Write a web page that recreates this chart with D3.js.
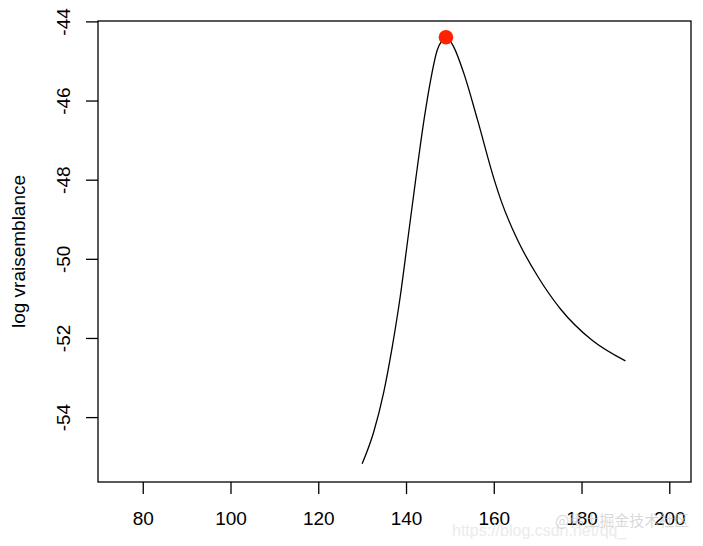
<!DOCTYPE html>
<html>
<head>
<meta charset="utf-8">
<script src="https://cdn.jsdelivr.net/npm/d3@7"></script>
<style>
    body { margin: 0; background: #fff; }
    text { font-family: "Liberation Sans", Arial, sans-serif; }
</style>
</head>
<body>
<div id="chart-area"></div>
<script>

// values (parameter, log likelihood)
let paramValues = [130, 132.6, 134.9, 136.9, 138.7, 140.3, 142.2, 144.1, 145.6, 147.1, 148.1, 149.1,
    150.1, 150.9, 153.2, 156.3, 160.1, 161.6, 165.4, 170, 175.3, 182.2, 190];
let logLikValues = [-55.18, -54.39, -53.38, -52.2, -50.94, -49.6, -48.0, -46.49, -45.49, -44.73, -44.5, -44.4,
    -44.5, -44.65, -45.32, -46.49, -48.0, -48.51, -49.52, -50.44, -51.28, -52.04, -52.58];

// maximum
let maxPoint = [149.1, -44.4];

let xTicks = [80, 100, 120, 140, 160, 180, 200];
let yTicks = [-54, -52, -50, -48, -46, -44];
let yLabel = "log vraisemblance";

class LikVis {
    constructor(parentElement) {
        this.parentElement = parentElement;
        this.initVis();
    }

    initVis() {
        let vis = this;

        vis.margin = { top: 21, right: 12, bottom: 64, left: 98 };
        vis.width = 703 - vis.margin.left - vis.margin.right;
        vis.height = 546 - vis.margin.top - vis.margin.bottom;

        vis.svg = d3.select("#" + vis.parentElement).append("svg")
            .attr("width", 703)
            .attr("height", 546)
            .append("g")
            .attr("transform", `translate(${vis.margin.left},${vis.margin.top})`);

        vis.x = d3.scaleLinear().domain([69.8, 204.95]).range([0, vis.width]);
        vis.y = d3.scaleLinear().domain([-55.64, -43.99]).range([vis.height, 0]);

        // box
        vis.svg.append("rect")
            .attr("width", vis.width)
            .attr("height", vis.height)
            .attr("fill", "none")
            .attr("stroke", "#000")
            .attr("stroke-width", 1.3);

        // x axis
        let xAxis = vis.svg.append("g")
            .attr("transform", `translate(0,${vis.height})`)
            .call(d3.axisBottom(vis.x).tickValues(xTicks).tickSize(12).tickPadding(18));
        xAxis.select(".domain").remove();
        xAxis.selectAll("line").attr("stroke-width", 1.3);
        xAxis.selectAll("text")
            .attr("font-size", 19)
            .attr("fill", "#000")
            .style("font-family", "'Liberation Sans', Arial, sans-serif");

        // y axis, labels vertical like R (plain hyphen)
        let yAxis = vis.svg.append("g")
            .call(d3.axisLeft(vis.y).tickValues(yTicks).tickSize(12).tickFormat(d => String(d)));
        yAxis.select(".domain").remove();
        yAxis.selectAll("line").attr("stroke-width", 1.3);
        yAxis.selectAll("text")
            .attr("font-size", 19)
            .attr("fill", "#000")
            .attr("text-anchor", "middle")
            .attr("x", 0)
            .attr("dy", 0)
            .attr("transform", "translate(-28,0) rotate(-90)")
            .style("font-family", "'Liberation Sans', Arial, sans-serif");

        vis.svg.append("text")
            .attr("transform", `translate(${25 - vis.margin.left},${vis.height / 2}) rotate(-90)`)
            .attr("text-anchor", "middle")
            .attr("font-size", 19)
            .text(yLabel);

        // curve
        let line = d3.line()
            .x((d, i) => vis.x(paramValues[i]))
            .y(d => vis.y(d))
            .curve(d3.curveMonotoneX);

        vis.svg.append("path")
            .datum(logLikValues)
            .attr("d", line)
            .attr("fill", "none")
            .attr("stroke", "#000")
            .attr("stroke-width", 1.3);

        vis.svg.append("circle")
            .attr("cx", vis.x(maxPoint[0]))
            .attr("cy", vis.y(maxPoint[1]))
            .attr("r", 7.3)
            .attr("fill", "#ff2200");

        // watermark
        d3.select("svg").append("text")
            .attr("x", 452).attr("y", 536)
            .attr("font-size", 16)
            .attr("fill", "#ebebeb")
            .text("https://blog.csdn.net/qq_");
        d3.select("svg").append("text")
            .attr("x", 555).attr("y", 526)
            .attr("font-size", 15)
            .attr("fill", "#c8c8c8")
            .attr("fill-opacity", 0.7)
            .style("font-family", "'Noto Sans CJK SC', sans-serif")
            .text("@稀土掘金技术社区");
    }
}

let likVis = new LikVis("chart-area");

</script>
</body>
</html>
